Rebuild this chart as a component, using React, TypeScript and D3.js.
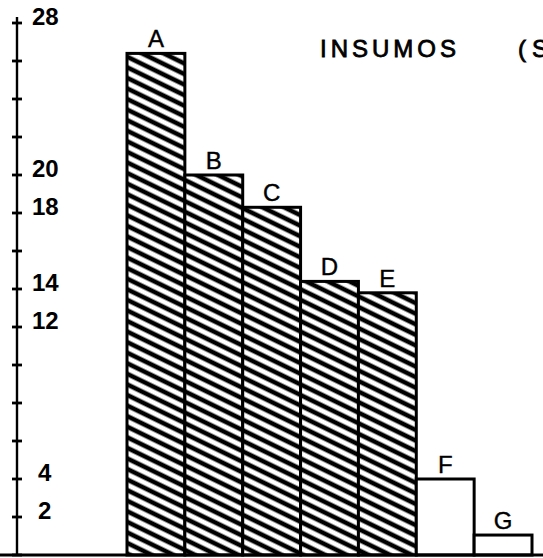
import React from "react";
import * as d3 from "d3";

const categories = ["A", "B", "C", "D", "E", "F", "G"];
const values = [26.4, 20, 18.3, 14.4, 13.8, 4, 1.05];
const hatched = [true, true, true, true, true, false, false];
const tickValues = d3.range(0, 29, 2);
const labeledTicks = [28, 20, 18, 14, 12, 4, 2];
const title = "INSUMOS";
const titleUnit = "(S";

export default function App() {
  const W = 543, H = 558;
  const axisX = 17;
  const y = d3.scaleLinear().domain([0, 28]).range([555, 23]);
  const x = d3.scaleBand().domain(categories).range([127, 532]).padding(0);
  return (
    <svg width={W} height={H} style={{ position: "absolute", left: 0, top: 0, background: "#fff" }}
      fontFamily="'Liberation Sans', Arial, sans-serif">
      <defs>
        <pattern id="hatch" patternUnits="userSpaceOnUse" width="20" height="9.5" patternTransform="rotate(26)">
          <rect width="20" height="9.5" fill="#fff" />
          <line x1="0" x2="20" y1="4.75" y2="4.75" stroke="#000" strokeWidth="4.6" />
        </pattern>
      </defs>
      {categories.map((c, i) => {
        const x0 = x(c)!;
        const y0 = y(values[i]);
        return (
          <g key={c}>
            <rect x={x0} y={y0} width={x.bandwidth()} height={y(0) - y0}
              fill={hatched[i] ? "url(#hatch)" : "#fff"} stroke="#000" strokeWidth={3} />
            <text x={x0 + x.bandwidth() / 2} y={y0 - 6} textAnchor="middle" fontSize={24}
              stroke="#000" strokeWidth={0.4} fill="#000">{c}</text>
          </g>
        );
      })}
      <line x1={axisX} x2={axisX} y1={y(28) - 6} y2={y(0)} stroke="#000" strokeWidth={2.4} />
      {tickValues.map((t) => (
        <line key={t} x1={axisX - 5} x2={axisX + 5} y1={y(t)} y2={y(t)} stroke="#000" strokeWidth={2.8} />
      ))}
      {labeledTicks.map((t) => (
        <text key={t} x={t < 10 ? 38 : 32} y={y(t) - 7} dominantBaseline="central" fontSize={24}
          fontWeight="bold" fill="#000">{t}</text>
      ))}
      <line x1={0} x2={W} y1={y(0)} y2={y(0)} stroke="#000" strokeWidth={3} />
      <text x={320} y={57} fontSize={24} letterSpacing={4} stroke="#000" strokeWidth={0.8} fill="#000">{title}</text>
      <text x={518} y={57} fontSize={24} letterSpacing={6} stroke="#000" strokeWidth={0.8} fill="#000">{titleUnit}</text>
    </svg>
  );
}
